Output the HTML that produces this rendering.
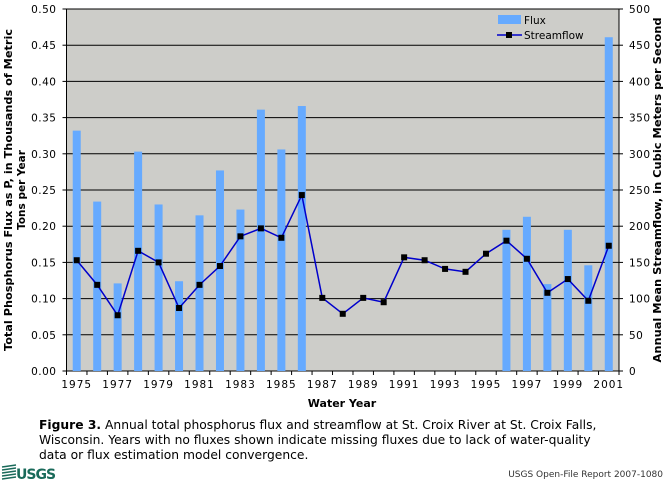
<!DOCTYPE html>
<html><head><meta charset="utf-8"><style>
body{margin:0;background:#fff;width:669px;height:483px;overflow:hidden;font-family:Verdana,"DejaVu Sans",sans-serif}
svg text{font-family:"DejaVu Sans",Verdana,sans-serif}
</style></head><body>
<svg id="s" width="669" height="483" xmlns="http://www.w3.org/2000/svg"></svg>
<script>
const L=66.5,R=619,T=9,B=371,H=B-T,W=R-L,n=27,dx=W/n;
const flow=[153,119,77,166,150,87,119,145,186,197,184,243,101,79,101,95,157,153,141,137,162,180,155,108,127,97,173];
const flux={1975:.332,1976:.234,1977:.121,1978:.303,1979:.230,1980:.124,1981:.215,1982:.277,1983:.223,1984:.361,1985:.306,1986:.366,1996:.195,1997:.213,1998:.120,1999:.195,2000:.146,2001:.461};
let s='';
s+=`<rect x="${L}" y="${T}" width="${W}" height="${H}" fill="#cdcdc9" stroke="#000"/>`;
for(let i=1;i<10;i++){const y=B-i*H/10;s+=`<line x1="${L}" x2="${R}" y1="${y}" y2="${y}" stroke="#000"/>`;}
for(let i=0;i<=10;i++){const y=B-i*H/10;
s+=`<text x="${L-10}" y="${y+4}" font-size="10.5" text-anchor="end" letter-spacing="0.5">${(i*0.05).toFixed(2)}</text>`;
s+=`<text x="${R+10}" y="${y+4}" font-size="10.5" letter-spacing="0.5">${i*50}</text>`;
s+=`<line x1="${L-4}" x2="${L}" y1="${y}" y2="${y}" stroke="#000"/><line x1="${R}" x2="${R+4}" y1="${y}" y2="${y}" stroke="#000"/>`;}
for(let i=0;i<=n;i++){const x=L+i*dx;s+=`<line x1="${x}" x2="${x}" y1="${B}" y2="${B+4}" stroke="#000"/>`;}
for(let i=0;i<n;i++){const yr=1975+i,cx=L+(i+0.5)*dx;
if(flux[yr]){const h=flux[yr]/0.5*H;s+=`<rect x="${cx-4}" y="${B-h}" width="8" height="${h}" fill="#66aaff"/>`;}
if(i%2==0)s+=`<text x="${cx}" y="${B+17}" font-size="10.5" text-anchor="middle" letter-spacing="1">${yr}</text>`;}
let pts=flow.map((v,i)=>`${L+(i+0.5)*dx},${B-v/500*H}`).join(' ');
s+=`<polyline points="${pts}" fill="none" stroke="#0000cc" stroke-width="1.5"/>`;
flow.forEach((v,i)=>{s+=`<rect x="${L+(i+0.5)*dx-3}" y="${B-v/500*H-3}" width="6" height="6" fill="#000"/>`;});
s+=`<rect x="498" y="15" width="23" height="9" fill="#66aaff"/><text x="524" y="24" font-size="10.5">Flux</text>`;
s+=`<line x1="497" x2="522" y1="35" y2="35" stroke="#0000cc" stroke-width="1.5"/><rect x="506" y="32" width="6" height="6"/><text x="524" y="39" font-size="10.5">Streamflow</text>`;
s+=`<text x="342" y="407" font-size="11" font-weight="bold" text-anchor="middle">Water Year</text>`;
s+=`<text transform="translate(12,190) rotate(-90)" font-size="10.5" font-weight="bold" text-anchor="middle" textLength="322" lengthAdjust="spacingAndGlyphs">Total Phosphorus Flux as P, in Thousands of Metric</text>`;
s+=`<text transform="translate(25,190) rotate(-90)" font-size="10.5" font-weight="bold" text-anchor="middle">Tons per Year</text>`;
s+=`<text transform="translate(661,190) rotate(-90)" font-size="10.5" font-weight="bold" text-anchor="middle" textLength="345" lengthAdjust="spacingAndGlyphs">Annual Mean Streamflow, in Cubic Meters per Second</text>`;
s+=`<text x="39" y="429" font-size="12.3"><tspan font-weight="bold">Figure 3.</tspan> Annual total phosphorus flux and streamflow at St. Croix River at St. Croix Falls,</text>`;
s+=`<text x="39" y="444" font-size="12.3">Wisconsin. Years with no fluxes shown indicate missing fluxes due to lack of water-quality</text>`;
s+=`<text x="39" y="459" font-size="12.3">data or flux estimation model convergence.</text>`;
for(let k=0;k<5;k++)s+=`<line x1="2" x2="16" y1="${467+k*3}" y2="${465+k*3}" stroke="#1a6a5a" stroke-width="1.5"/>`;
s+=`<text x="16" y="479" font-size="14" font-weight="bold" fill="#1a6a5a" letter-spacing="-1">USGS</text>`;
s+=`<text x="663" y="477" font-size="9" text-anchor="end" fill="#333">USGS Open-File Report 2007-1080</text>`;
document.getElementById('s').innerHTML=s;
</script>
</body></html>
